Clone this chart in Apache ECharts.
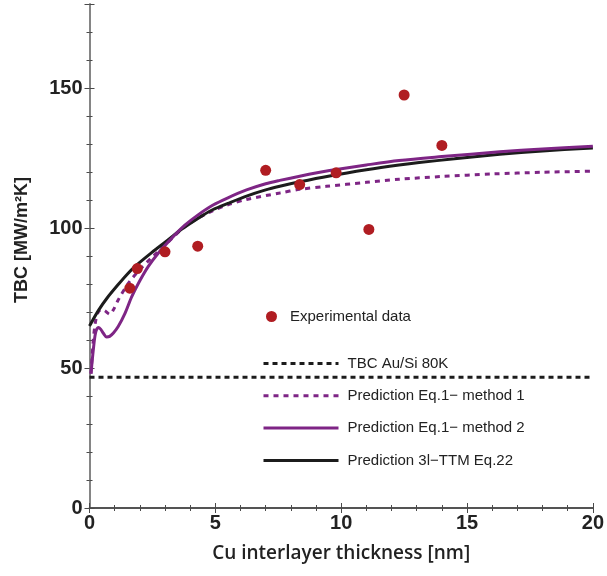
<!DOCTYPE html>
<html>
<head>
<meta charset="utf-8">
<script src="https://cdn.jsdelivr.net/npm/echarts@6/dist/echarts.min.js"></script>
<style>
  html, body { margin: 0; padding: 0; background: #fff; }
  #chart { width: 607px; height: 576px; }
</style>
</head>
<body>
<div id="chart"></div>
<script>
// Measured thermal boundary conductance vs Cu interlayer thickness
const experimentalData = [
  [1.6, 78.5], [1.9, 85.5], [3.0, 91.5], [4.3, 93.5], [7.0, 120.6],
  [8.35, 115.5], [9.8, 119.7], [11.1, 99.5], [12.5, 147.5], [14.0, 129.5]
];

// Reference Au/Si boundary conductance at 80 K
const auSiTBC = 46.7;
const thicknessRange = [0, 20];

// Model predictions [thickness nm, TBC MW/m²K]
const method1Curve = [
  [0.06, 48], [0.15, 60], [0.22, 65.5], [0.32, 69.5], [0.45, 70.8], [0.6, 70.5],
  [0.81, 69.2], [0.95, 70.8], [1.14, 74.3], [1.54, 80.2], [1.94, 84.6], [2.47, 89.4],
  [3.13, 95], [3.66, 99.5], [4.2, 103], [4.91, 106.2], [5.5, 108.3], [6.24, 110.2],
  [7.56, 112.5], [8.35, 113.8], [9.41, 114.9], [11, 116.3], [12.3, 117.4], [14, 118.4],
  [16, 119.3], [18, 119.9], [20, 120.3]
];
const method2Curve = [
  [0.06, 48], [0.15, 56.4], [0.24, 62.5], [0.35, 64.5], [0.45, 63.8], [0.55, 62.4],
  [0.68, 61.1], [0.8, 61.3], [0.95, 62.5], [1.14, 64.8], [1.41, 69.5], [1.67, 75.3],
  [1.94, 80.2], [2.33, 86.2], [2.73, 91], [3.26, 96.3], [3.79, 101], [4.3, 104.6],
  [4.91, 108.2], [5.5, 110.8], [6.24, 113.6], [7, 115.8], [7.56, 117], [8.35, 118.5],
  [9.54, 120.5], [11, 122.5], [12.3, 124.1], [14, 125.5], [16.3, 127.2], [18, 128.2],
  [20, 129.2]
];
const ttmCurve = [
  [0, 65], [0.35, 70.5], [0.7, 75], [1.14, 79.8], [1.5, 83.5], [1.8, 86.2],
  [2.47, 91.2], [3.13, 95.8], [3.6, 99.2], [3.79, 100.4], [4.5, 104.5], [4.91, 106.6],
  [5.5, 108.8], [6.24, 111.4], [7.0, 113.6], [7.56, 114.9], [8.35, 116.5], [9.54, 118.6],
  [11, 120.8], [12.3, 122.5], [13.1, 123.4], [14.5, 124.7], [16.3, 126.3], [18, 127.5],
  [20, 128.6]
];

const names = {
  exp: 'Experimental data',
  ref: 'TBC Au/Si 80K',
  m1: 'Prediction Eq.1\u2212 method 1',
  m2: 'Prediction Eq.1\u2212 method 2',
  ttm: 'Prediction 3l\u2212TTM Eq.22'
};

const RED = '#b01d22';
const PURPLE = '#7e2585';
const BLACK = '#1c1c1c';
const FRAME = '#4a4a4a';

const tickFont = { fontFamily: 'Liberation Sans', fontWeight: 'bold', fontSize: 20, color: '#222' };

const chart = echarts.init(document.getElementById('chart'));
chart.setOption({
  animation: false,
  backgroundColor: '#fff',
  grid: { left: 89.5, right: 13, top: 4, bottom: 68 },
  xAxis: [
    {
      type: 'value', min: 0, max: 20, interval: 5,
      name: 'Cu interlayer thickness [nm]', nameLocation: 'middle', nameGap: 36,
      nameTextStyle: { fontFamily: 'Open Sans', fontWeight: 600, fontSize: 19, color: '#222' },
      axisLine: { lineStyle: { color: FRAME, width: 1.5 } },
      axisTick: { inside: true, length: 5, lineStyle: { color: FRAME } },
      minorTick: { show: true, splitNumber: 5, length: 3, lineStyle: { color: FRAME } },
      axisLabel: Object.assign({ margin: 5 }, tickFont),
      splitLine: { show: false }
    },
    {
      type: 'value', min: 0, max: 20, interval: 5, position: 'top',
      axisLine: { lineStyle: { color: FRAME, width: 1.5 } },
      axisTick: { inside: true, length: 5, lineStyle: { color: FRAME } },
      minorTick: { show: true, splitNumber: 5, length: 3, lineStyle: { color: FRAME } },
      axisLabel: { show: false },
      splitLine: { show: false }
    }
  ],
  yAxis: [
    {
      type: 'value', min: 0, max: 180, interval: 50,
      axisLine: { show: true, lineStyle: { color: FRAME, width: 1.5 } },
      axisTick: { show: true, inside: true, length: 5, lineStyle: { color: FRAME } },
      minorTick: { show: true, splitNumber: 5, length: 3, lineStyle: { color: FRAME } },
      axisLabel: Object.assign({ margin: 7, showMaxLabel: false }, tickFont),
      splitLine: { show: false }
    },
    {
      type: 'value', min: 0, max: 180, interval: 50, position: 'right',
      axisLine: { show: true, lineStyle: { color: '#8a8a8a', width: 1.5 } },
      axisTick: { show: true, inside: true, length: 5, lineStyle: { color: FRAME } },
      minorTick: { show: true, splitNumber: 5, length: 3, lineStyle: { color: FRAME } },
      axisLabel: { show: false },
      splitLine: { show: false }
    }
  ],
  legend: [
    {
      data: [names.exp], left: 261, top: 304, orient: 'vertical',
      itemWidth: 11, itemHeight: 11,
      textStyle: { fontFamily: 'Liberation Sans', fontSize: 15, color: '#222', padding: [0, 0, 0, 8] }
    },
    {
      data: [names.ref, names.m1, names.m2, names.ttm], left: 257, top: 351, orient: 'vertical',
      itemWidth: 75, itemHeight: 14, itemGap: 17.3,
      itemStyle: { opacity: 0 },
      lineStyle: { width: 3 },
      textStyle: { fontFamily: 'Liberation Sans', fontSize: 15, color: '#222', padding: [0, 0, 0, 4] }
    }
  ],
  graphic: [
    {
      type: 'text', left: 13, top: 177, rotation: Math.PI / 2,
      style: { text: 'TBC [MW/m\u00b2K]', font: 'bold 18px "Liberation Sans"', fill: '#222' }
    }
  ],
  series: [
    {
      name: names.ref, type: 'line', symbol: 'none',
      data: [[thicknessRange[0], auSiTBC], [thicknessRange[1], auSiTBC]],
      lineStyle: { color: BLACK, width: 3, type: [5, 4] },
      itemStyle: { color: BLACK }, z: 2
    },
    {
      name: names.m1, type: 'line', symbol: 'none', smooth: 0.3, data: method1Curve,
      lineStyle: { color: PURPLE, width: 3, type: [5, 5] },
      itemStyle: { color: PURPLE }, z: 3
    },
    {
      name: names.ttm, type: 'line', symbol: 'none', smooth: 0.3, data: ttmCurve,
      lineStyle: { color: BLACK, width: 3 },
      itemStyle: { color: BLACK }, z: 4
    },
    {
      name: names.m2, type: 'line', symbol: 'none', smooth: 0.3, data: method2Curve,
      lineStyle: { color: PURPLE, width: 3 },
      itemStyle: { color: PURPLE }, z: 5
    },
    {
      name: names.exp, type: 'scatter', symbol: 'circle', symbolSize: 11, data: experimentalData,
      itemStyle: { color: RED, opacity: 1 }, z: 6
    }
  ]
});
</script>
</body>
</html>
